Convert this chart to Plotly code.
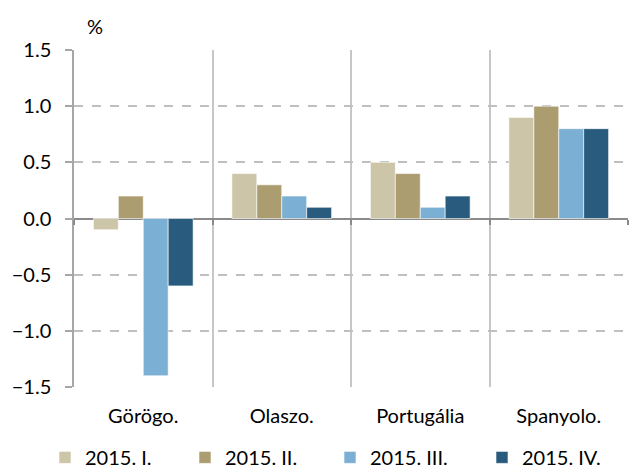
import plotly.graph_objects as go

categories = ["Görögo.", "Olaszo.", "Portugália", "Spanyolo."]
series_names = ["2015. I.", "2015. II.", "2015. III.", "2015. IV."]
q1 = [-0.1, 0.4, 0.5, 0.9]
q2 = [0.2, 0.3, 0.4, 1.0]
q3 = [-1.4, 0.2, 0.1, 0.8]
q4 = [-0.6, 0.1, 0.2, 0.8]
series_values = [q1, q2, q3, q4]
colors = ["#CCC5A8", "#AB9D6F", "#7BAFD4", "#295B7E"]
y_ticks = [-1.5, -1.0, -0.5, 0.0, 0.5, 1.0, 1.5]

W, H = 629, 468
FONT = "Lato"
legend_x_px = [45, 185, 330, 482]

fig = go.Figure()
legend_ids = ["legend", "legend2", "legend3", "legend4"]
for name, vals, col, lid in zip(series_names, series_values, colors, legend_ids):
    fig.add_trace(go.Bar(
        x=categories, y=vals, name=name,
        marker=dict(color=col, line=dict(color="white", width=0.6)),
        legend=lid,
    ))

# invisible trace for tick marks along the zero line
fig.add_trace(go.Bar(x=categories, y=[None] * len(categories), xaxis="x2",
                     showlegend=False, hoverinfo="skip"))

layout_legends = {}
for lid, px in zip(legend_ids, legend_x_px):
    layout_legends[lid] = dict(
        xref="paper", yref="paper",
        x=(px - 74) / 554, y=(387 - 457.5) / (387 - 49.5),
        xanchor="left", yanchor="middle",
        orientation="h", bgcolor="rgba(0,0,0,0)",
        font=dict(family=FONT, size=20, color="#000000"),
        itemclick=False, itemdoubleclick=False,
    )

fig.update_layout(
    width=W, height=H,
    margin=dict(l=74, r=1, t=50, b=81, autoexpand=False),
    paper_bgcolor="white", plot_bgcolor="white",
    barmode="group", bargap=0.28, bargroupgap=0,
    font=dict(family=FONT, size=20, color="#000000"),
    xaxis=dict(
        type="category", range=[-0.5, 3.5],
        tickson="boundaries", ticks="", showgrid=True,
        gridcolor="#C6C6C6", gridwidth=1.5,
        showline=False, zeroline=False,
        tickfont=dict(family=FONT, size=20),
        ticklabelstandoff=15,
    ),
    xaxis2=dict(
        type="category", range=[-0.5, 3.5], overlaying="x",
        anchor="free", position=0.5, side="bottom",
        tickson="boundaries", ticks="outside", ticklen=5,
        tickcolor="#8A8A8A", tickwidth=1.5,
        showticklabels=False, showgrid=False, showline=False, zeroline=False,
    ),
    yaxis=dict(
        range=[-1.5, 1.5], tickvals=y_ticks, tickformat=".1f",
        ticks="outside", ticklen=7, tickcolor="#A6A6A6", tickwidth=1.5,
        showline=True, linecolor="#A6A6A6", linewidth=1.5,
        showgrid=True, gridcolor="#BFBFBF", gridwidth=1.5, griddash="dash",
        zeroline=True, zerolinecolor="#8A8A8A", zerolinewidth=2,
        tickfont=dict(family=FONT, size=20),
        ticklabelstandoff=10,
    ),
    annotations=[dict(
        text="%", xref="paper", yref="paper",
        x=(95 - 74) / 554, y=(387 - 25) / (387 - 49.5),
        xanchor="center", yanchor="middle", showarrow=False,
        font=dict(family=FONT, size=20, color="#000000"),
    )],
    **layout_legends,
)

fig.write_html(
    "out.html",
    config={"displayModeBar": False},
    post_script="document.body.style.margin='0px';document.body.style.padding='0px';",
)
